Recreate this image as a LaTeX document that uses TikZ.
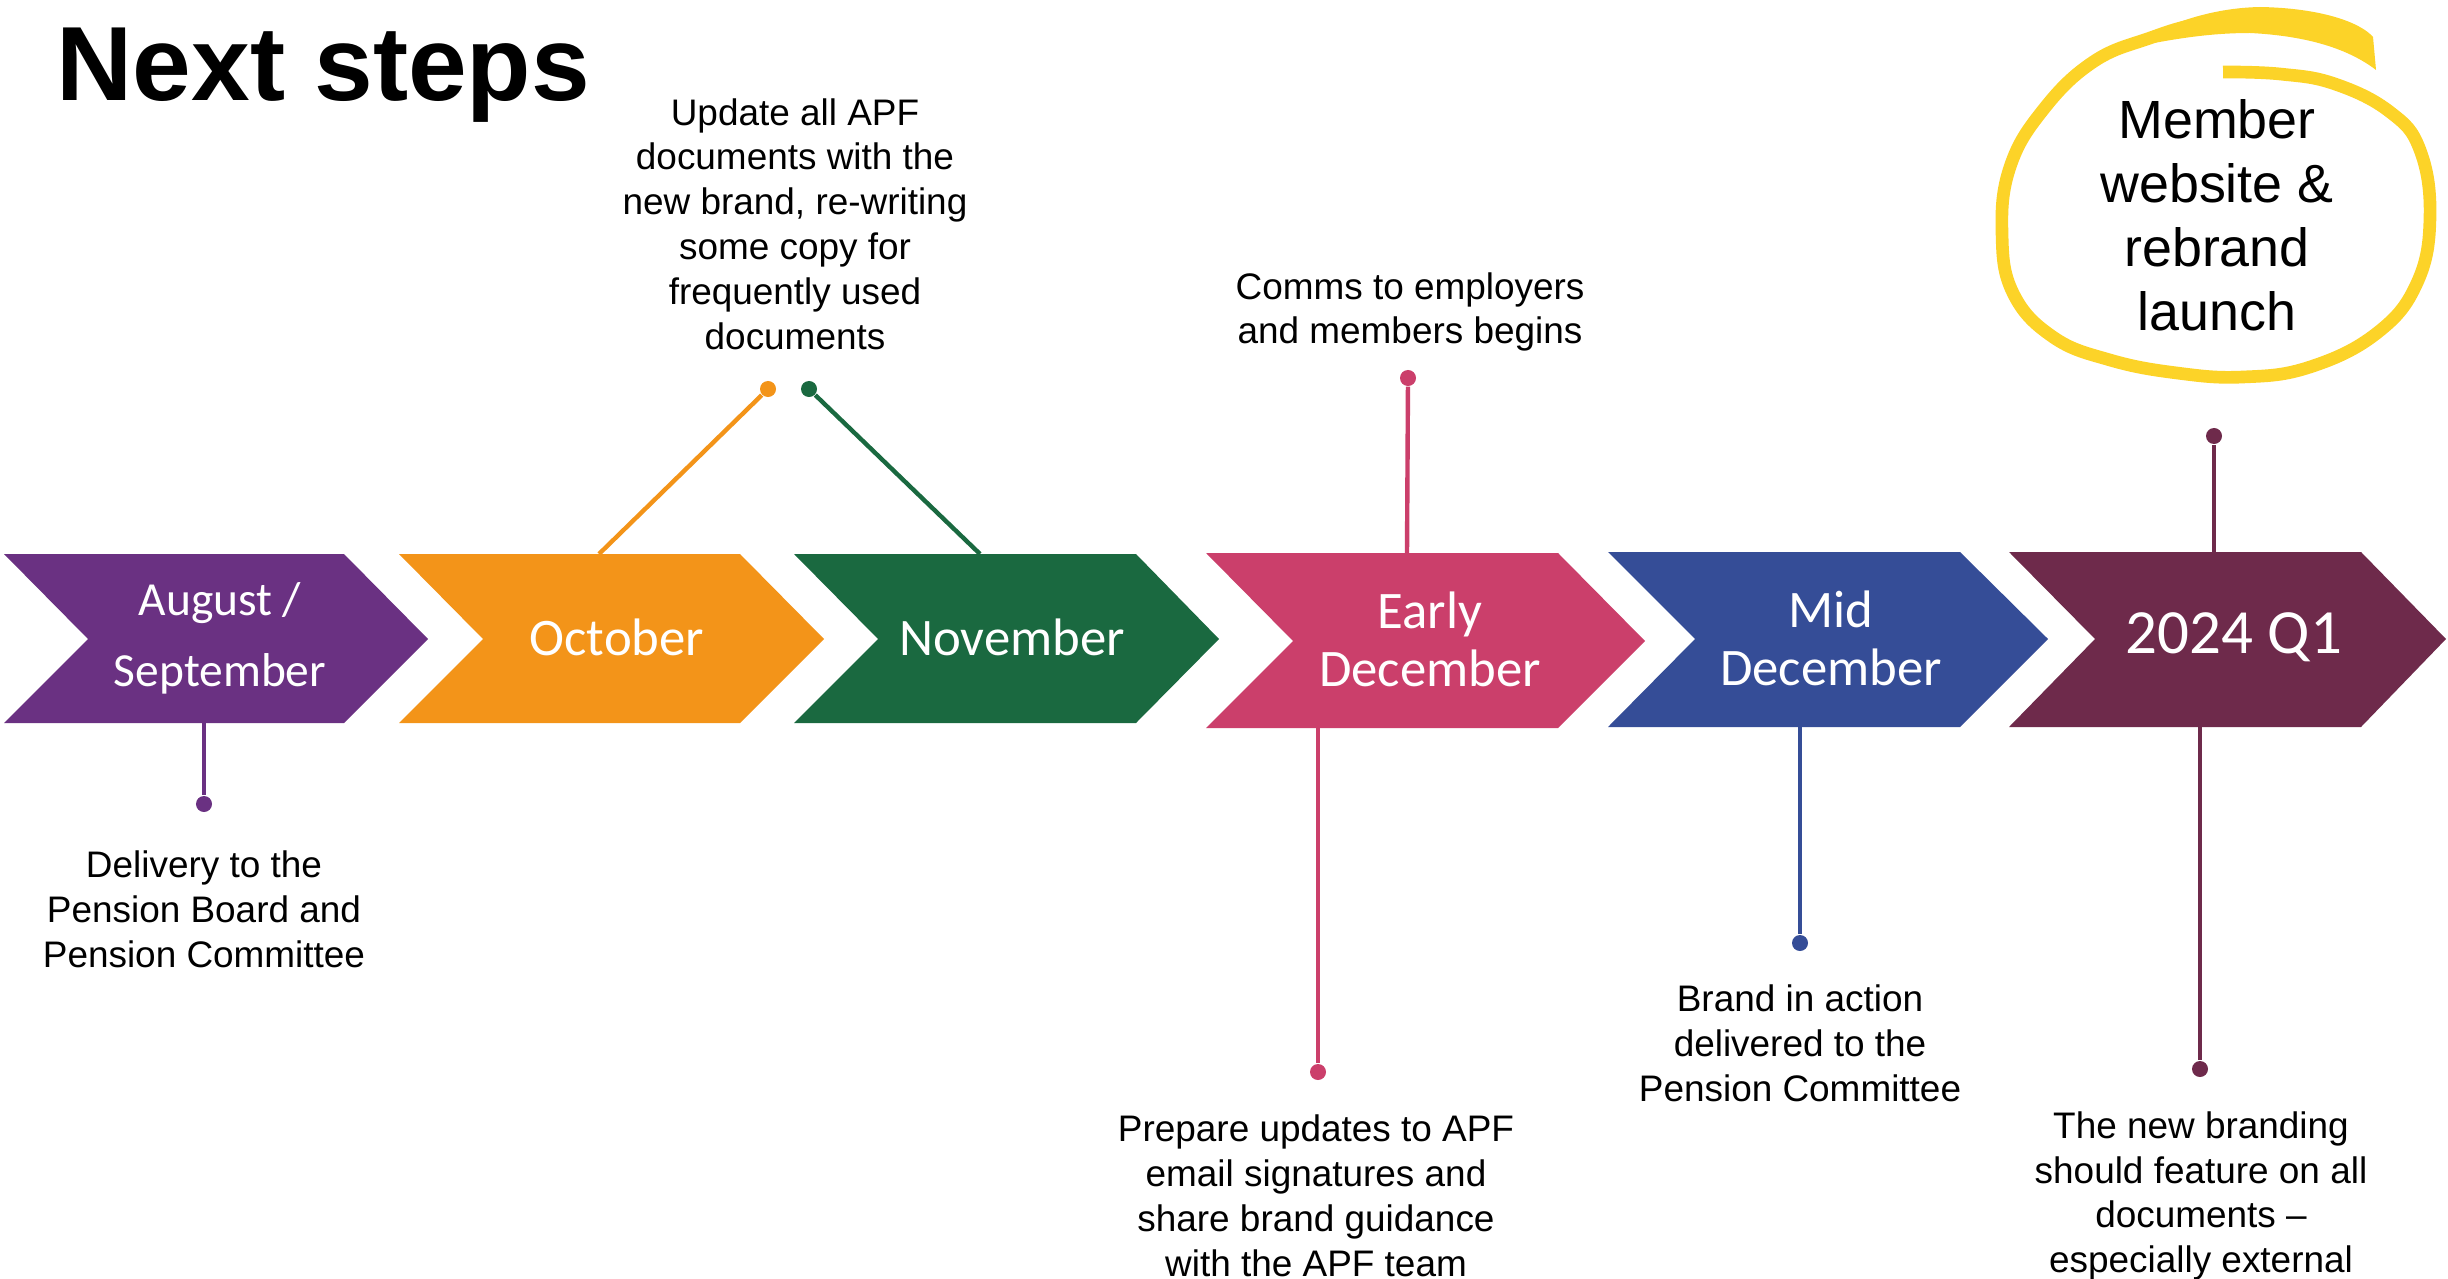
\documentclass[tikz,border=0pt]{standalone}
\usepackage{tikz}
\usepackage{xcolor}
\usepackage{fontspec}
\setmainfont{Liberation Sans}
\newfontfamily\calfont{Carlito}

\definecolor{augpurple}{HTML}{6A3182}
\definecolor{octorange}{HTML}{F39419}
\definecolor{novgreen}{HTML}{1A6940}
\definecolor{decpink}{HTML}{CB3F6B}
\definecolor{midblue}{HTML}{354D97}
\definecolor{qmaroon}{HTML}{6E2A4B}
\definecolor{ringyellow}{HTML}{FCD328}

\begin{document}
\begin{tikzpicture}[x=0.01cm, y=-0.01cm,
  month/.style={align=center, text=white, inner sep=0pt, font=\calfont\fontsize{15}{16.5}\selectfont},
  note/.style={align=center, inner sep=0pt, font=\fontsize{10.5}{12.75}\selectfont},
  dot/.style={circle, inner sep=0pt, minimum size=0.16cm},
  stem/.style={line width=1.25pt}]
  \useasboundingbox (0,0) rectangle (2448,1279);

  % Title
  \node[anchor=base west, inner sep=0pt, font=\bfseries\fontsize{30}{32}\selectfont] (title) at (56,101) {Next steps};

  % Draw the chevrons
  \fill[augpurple] (4,554) -- (344,554) -- (428,639) -- (344,723) -- (4,723) -- (88,639) -- cycle;
  \fill[octorange] (399,554) -- (740,554) -- (824,639) -- (740,723) -- (399,723) -- (483,639) -- cycle;
  \fill[novgreen] (794,554) -- (1136,554) -- (1219,639) -- (1136,723) -- (794,723) -- (878,639) -- cycle;
  \fill[decpink] (1206,553) -- (1558,553) -- (1645,641) -- (1558,728) -- (1206,728) -- (1293,641) -- cycle;
  \fill[midblue] (1608,552) -- (1960,552) -- (2048,639) -- (1960,727) -- (1608,727) -- (1695,639) -- cycle;
  \fill[qmaroon] (2009,552) -- (2361,552) -- (2446,639) -- (2361,727) -- (2009,727) -- (2095,639) -- cycle;

  % Month labels
  \node[month, font=\calfont\fontsize{13.5}{20.2}\selectfont] (aug) at (220,638) {August /\\September};
  \node[month] (oct) at (617,637) {October};
  \node[month] (nov) at (1012,637) {November};
  \node[month] (edec) at (1430,639) {Early\\December};
  \node[month] (mdec) at (1831,638) {Mid\\December};
  \node[month, font=\calfont\fontsize{17.9}{20}\selectfont] (q1) at (2234,637) {2024 Q1};

  % Stems with dots
  \coordinate (augB) at (204,723);
  \node[dot, fill=augpurple] (augdot) at (204,804) {};
  \draw[stem, augpurple] (augB) -- (augdot);

  \coordinate (octT) at (599,554);
  \node[dot, fill=octorange] (octdot) at (768,389) {};
  \draw[stem, octorange] (octT) -- (octdot);

  \coordinate (novT) at (980,554);
  \node[dot, fill=novgreen] (novdot) at (809,389) {};
  \draw[stem, novgreen] (novT) -- (novdot);

  \coordinate (edecT) at (1407,553);
  \node[dot, fill=decpink] (edecupdot) at (1408,378) {};
  \draw[stem, decpink] (edecT) -- (edecupdot);

  \coordinate (edecB) at (1318,728);
  \node[dot, fill=decpink] (edecdowndot) at (1318,1072) {};
  \draw[stem, decpink] (edecB) -- (edecdowndot);

  \coordinate (mdecB) at (1800,727);
  \node[dot, fill=midblue] (mdecdot) at (1800,943) {};
  \draw[stem, midblue] (mdecB) -- (mdecdot);

  \coordinate (q1T) at (2214,552);
  \node[dot, fill=qmaroon] (q1updot) at (2214,436) {};
  \draw[stem, qmaroon] (q1T) -- (q1updot);

  \coordinate (q1B) at (2200,727);
  \node[dot, fill=qmaroon] (q1downdot) at (2200,1069) {};
  \draw[stem, qmaroon] (q1B) -- (q1downdot);

  % Notes
  \node[note] (augnote) at (204,909) {Delivery to the\\Pension Board and\\Pension Committee};
  \node[note] (docsnote) at (795,224) {Update all APF\\documents with the\\new brand, re-writing\\some copy for\\frequently used\\documents};
  \node[note] (commsnote) at (1410,312) {Comms to employers\\and members begins};
  \node[note] (emailnote) at (1316,1196) {Prepare updates to APF\\email signatures and\\share brand guidance\\with the APF team};
  \node[note] (brandnote) at (1800,1043) {Brand in action\\delivered to the\\Pension Committee};
  \node[note] (featurenote) at (2201,1196) {The new branding\\should feature on all\\documents --\\especially external};

  % Launch ring, hand drawn
  \draw[ringyellow, line width=3.6pt] plot[smooth, tension=0.7] coordinates {(2260,20) (2200,24) (2150,38) (2093,62) (2043,110) (2010,167) (2002,233) (2013,293) (2053,337) (2110,360) (2177,373) (2243,377) (2310,367) (2377,333) (2417,283) (2430,217) (2420,150) (2390,112) (2335,84) (2280,74) (2223,72)};
  \fill[ringyellow] (2122,49) .. controls (2165,24) and (2210,8) .. (2260,7) .. controls (2320,8) and (2360,22) .. (2373,37) -- (2376,70) .. controls (2350,50) and (2310,36) .. (2250,33) .. controls (2200,33) and (2160,42) .. (2122,49) -- cycle;
  \node[align=center, inner sep=0pt, font=\fontsize{15.3}{18.2}\selectfont] (launch) at (2217,215) {Member\\website \&\\rebrand\\launch};
\end{tikzpicture}
\end{document}
